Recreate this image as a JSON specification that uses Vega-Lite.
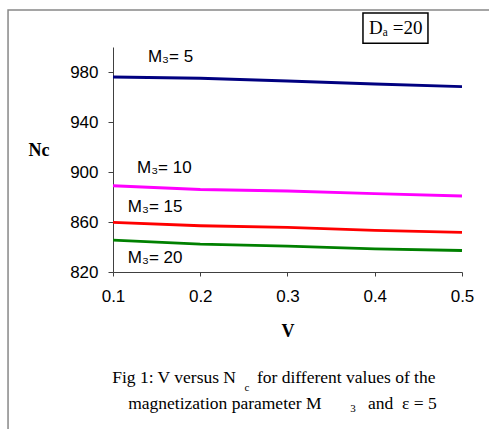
{
  "$schema": "https://vega.github.io/schema/vega-lite/v6.json",
  "width": 349,
  "height": 225,
  "autosize": {"type": "none"},
  "padding": {"left": 113, "top": 47, "right": 27, "bottom": 157},
  "background": "white",
  "config": {"view": {"stroke": null}},
  "datasets": {
    "series": [
      {"V": 0.1, "Nc": 976.0, "M3": "M3=5"},
      {"V": 0.2, "Nc": 975.0, "M3": "M3=5"},
      {"V": 0.3, "Nc": 972.8, "M3": "M3=5"},
      {"V": 0.4, "Nc": 970.4, "M3": "M3=5"},
      {"V": 0.5, "Nc": 968.3, "M3": "M3=5"},
      {"V": 0.1, "Nc": 889.0, "M3": "M3=10"},
      {"V": 0.2, "Nc": 886.0, "M3": "M3=10"},
      {"V": 0.3, "Nc": 884.8, "M3": "M3=10"},
      {"V": 0.4, "Nc": 882.7, "M3": "M3=10"},
      {"V": 0.5, "Nc": 880.8, "M3": "M3=10"},
      {"V": 0.1, "Nc": 859.7, "M3": "M3=15"},
      {"V": 0.2, "Nc": 857.0, "M3": "M3=15"},
      {"V": 0.3, "Nc": 855.7, "M3": "M3=15"},
      {"V": 0.4, "Nc": 853.3, "M3": "M3=15"},
      {"V": 0.5, "Nc": 851.7, "M3": "M3=15"},
      {"V": 0.1, "Nc": 845.5, "M3": "M3=20"},
      {"V": 0.2, "Nc": 842.3, "M3": "M3=20"},
      {"V": 0.3, "Nc": 840.7, "M3": "M3=20"},
      {"V": 0.4, "Nc": 838.5, "M3": "M3=20"},
      {"V": 0.5, "Nc": 837.2, "M3": "M3=20"}
    ],
    "labels": [
      {"V": 0.140, "Nc": 992, "label": "M₃= 5"},
      {"V": 0.1275, "Nc": 903.5, "label": "M₃= 10"},
      {"V": 0.117, "Nc": 872, "label": "M₃= 15"},
      {"V": 0.117, "Nc": 831, "label": "M₃= 20"}
    ]
  },
  "layer": [
    {
      "data": {"name": "series"},
      "mark": {"type": "line", "strokeWidth": 3, "clip": false},
      "encoding": {
        "x": {
          "field": "V", "type": "quantitative",
          "scale": {"domain": [0.1, 0.5], "zero": false, "nice": false},
          "axis": {
            "values": [0.1, 0.2, 0.3, 0.4, 0.5], "format": ".1f", "grid": false,
            "tickSize": 4, "tickColor": "#404040", "domainColor": "#404040",
            "labelFont": "Liberation Sans", "labelFontSize": 17, "labelColor": "black",
            "labelPadding": 12, "labelFlush": false,
            "title": "V", "titleFont": "Liberation Serif", "titleFontSize": 18, "titleFontWeight": "bold",
            "titleColor": "black", "titleBaseline": "middle", "titleY": 59
          }
        },
        "y": {
          "field": "Nc", "type": "quantitative",
          "scale": {"domain": [820, 1000], "zero": false, "nice": false},
          "axis": {
            "values": [820, 860, 900, 940, 980], "grid": false,
            "tickSize": 5, "tickColor": "#404040", "domainColor": "#404040",
            "labelFont": "Liberation Sans", "labelFontSize": 17, "labelColor": "black",
            "labelPadding": 10,
            "title": "Nc", "titleFont": "Liberation Serif", "titleFontSize": 18, "titleFontWeight": "bold",
            "titleColor": "black", "titleAngle": 0, "titleAlign": "left", "titleBaseline": "middle",
            "titleX": -85, "titleY": 103
          }
        },
        "color": {
          "field": "M3", "type": "nominal",
          "scale": {"domain": ["M3=5", "M3=10", "M3=15", "M3=20"], "range": ["#000080", "#FF00FF", "#FF0000", "#008000"]},
          "legend": null
        }
      }
    },
    {
      "data": {"values": [{"x1": -0.0203, "x2": 0.6, "y1": 1029.7, "y2": 680}]},
      "mark": {"type": "rect", "fill": null, "stroke": "#888888", "strokeWidth": 1.5, "clip": false},
      "encoding": {
        "x": {"field": "x1", "type": "quantitative", "title": "V"},
        "x2": {"field": "x2"},
        "y": {"field": "y1", "type": "quantitative", "title": "Nc"},
        "y2": {"field": "y2"}
      }
    },
    {
      "data": {"name": "labels"},
      "mark": {"type": "text", "align": "left", "baseline": "middle", "font": "Liberation Sans", "fontSize": 17, "color": "black"},
      "encoding": {
        "x": {"field": "V", "type": "quantitative"},
        "y": {"field": "Nc", "type": "quantitative"},
        "text": {"field": "label"}
      }
    },
    {
      "data": {"values": [{"x1": 0.3865, "x2": 0.461, "y1": 1027.2, "y2": 1003.1}]},
      "mark": {"type": "rect", "fill": "white", "stroke": "black", "strokeWidth": 1.5, "clip": false},
      "encoding": {
        "x": {"field": "x1", "type": "quantitative", "title": "V"},
        "x2": {"field": "x2"},
        "y": {"field": "y1", "type": "quantitative", "title": "Nc"},
        "y2": {"field": "y2"}
      }
    },
    {
      "data": {"values": [{"V": 0.424, "Nc": 1015.5, "label": "Dₐ =20"}]},
      "mark": {"type": "text", "align": "center", "baseline": "middle", "font": "Liberation Serif", "fontSize": 19, "color": "black"},
      "encoding": {
        "x": {"field": "V", "type": "quantitative"},
        "y": {"field": "Nc", "type": "quantitative"},
        "text": {"field": "label"}
      }
    },
    {
      "data": {"values": [
        {"V": 0.241, "Nc": 734.9, "label": "Fig 1: V versus N"},
        {"V": 0.339, "Nc": 714.8, "label": "magnetization parameter M"}
      ]},
      "mark": {"type": "text", "align": "right", "baseline": "middle", "font": "Liberation Serif", "fontSize": 17.5, "color": "black"},
      "encoding": {
        "x": {"field": "V", "type": "quantitative"},
        "y": {"field": "Nc", "type": "quantitative"},
        "text": {"field": "label"}
      }
    },
    {
      "data": {"values": [
        {"V": 0.265, "Nc": 734.9, "label": "for different values of the"},
        {"V": 0.3923, "Nc": 714.8, "label": "and\u00a0\u00a0ε = 5"}
      ]},
      "mark": {"type": "text", "align": "left", "baseline": "middle", "font": "Liberation Serif", "fontSize": 17.5, "color": "black"},
      "encoding": {
        "x": {"field": "V", "type": "quantitative"},
        "y": {"field": "Nc", "type": "quantitative"},
        "text": {"field": "label"}
      }
    },
    {
      "data": {"values": [
        {"V": 0.2536, "Nc": 727.5, "label": "c"},
        {"V": 0.375, "Nc": 710.8, "label": "3"}
      ]},
      "mark": {"type": "text", "align": "center", "baseline": "middle", "font": "Liberation Serif", "fontSize": 11, "color": "black"},
      "encoding": {
        "x": {"field": "V", "type": "quantitative"},
        "y": {"field": "Nc", "type": "quantitative"},
        "text": {"field": "label"}
      }
    }
  ]
}
